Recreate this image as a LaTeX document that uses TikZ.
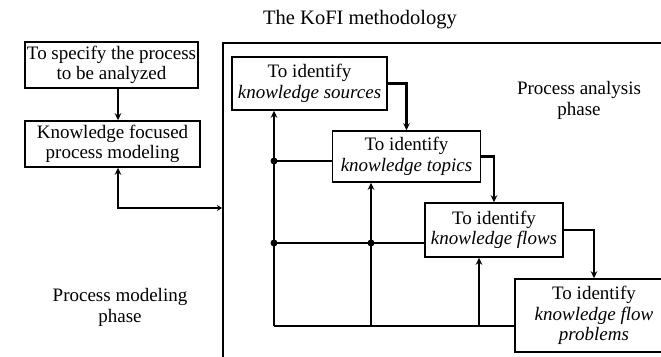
\documentclass[tikz,border=0pt]{standalone}
\usepackage{fontspec}
\setmainfont{Liberation Serif}
\usetikzlibrary{arrows.meta}
\begin{document}
\begin{tikzpicture}[x=1pt,y=-1pt,
  stepbox/.style={draw,line width=1.5pt,align=center,inner sep=0pt,
    font=\fontsize{19}{20.5}\selectfont},
  conn/.style={line width=2.6pt},
  tip/.style={-{Stealth[length=7pt,width=6.5pt]}},
  frameline/.style={line width=1.7pt},
  phase/.style={align=center,font=\fontsize{19}{21}\selectfont},
  joint/.style={circle,fill,inner sep=0pt,minimum size=7pt}]
\useasboundingbox (0,0) rectangle (661,356);
\clip (0,0) rectangle (661,356);

% title
\node[font=\fontsize{20.5}{22}\selectfont] (title) at (360,20) {The KoFI methodology};

% modeling phase boxes
\node[stepbox,minimum width=173pt,minimum height=46pt] (spec) at (111.5,65)
  {To specify the process\\to be analyzed};
\node[stepbox,minimum width=175pt,minimum height=46pt] (model) at (112.5,144)
  {Knowledge focused\\process modeling};

% frame of the analysis phase (only top and left sides are in view)
\coordinate (frTL) at (223,43);
\draw[frameline] (680,43) -- (frTL) -- (223,370);
\coordinate (inlet) at (222,208);

% analysis phase boxes
\node[stepbox,minimum width=155pt,minimum height=53pt] (src) at (309.5,83.5)
  {To identify\\\textit{knowledge sources}};
\node[stepbox,minimum width=148pt,minimum height=51pt] (top) at (406.5,156.5)
  {To identify\\\textit{knowledge topics}};
\node[stepbox,minimum width=138pt,minimum height=54pt] (flw) at (494,230)
  {To identify\\\textit{knowledge flows}};
\node[stepbox,minimum width=158pt,minimum height=73pt] (prb) at (594,315.5)
  {To identify\\\textit{knowledge flow}\\\textit{problems}};

% phase labels
\node[phase] (anaLbl) at (579,100) {Process analysis\\phase};
\node[phase] (modLbl) at (120,307.5) {Process modeling\\phase};

% guide coordinates for the connectors
\coordinate (xa) at (118,0);
\coordinate (xA) at (274,0);
\coordinate (xB) at (371,0);
\coordinate (xC) at (479,0);
\coordinate (yA) at (0,161);
\coordinate (yB) at (0,243);
\coordinate (yC) at (0,326);

% forward flow
\draw[conn,tip] (spec.south -| xa) -- (model.north -| xa);
\draw[conn,{Stealth[length=7pt,width=6.5pt]}-{Stealth[length=5pt,width=6pt]}]
  (model.south -| xa) |- (inlet);
\draw[conn,tip] (src.east) -| (top.north);
\draw[conn,tip] (top.east) -| (flw.north);
\draw[conn,tip] (flw.east) -| (prb.north);

% feedback network
\coordinate (jA1) at (xA |- yA);
\coordinate (jA2) at (xA |- yB);
\coordinate (jB2) at (xB |- yB);
\coordinate (bA) at (xA |- yC);
\coordinate (bB) at (xB |- yC);
\coordinate (bC) at (xC |- yC);
\draw[conn] (bA) -- (prb.west |- yC);
\draw[conn,tip] (bA) -- (src.south -| xA);
\draw[conn,tip] (bB) -- (top.south -| xB);
\draw[conn,tip] (bC) -- (flw.south -| xC);
\draw[conn] (jA1) -- (top.west |- yA);
\draw[conn] (jA2) -- (flw.west |- yB);
\node[joint] (dA1) at (jA1) {};
\node[joint] (dA2) at (jA2) {};
\node[joint] (dB2) at (jB2) {};
\end{tikzpicture}
\end{document}
